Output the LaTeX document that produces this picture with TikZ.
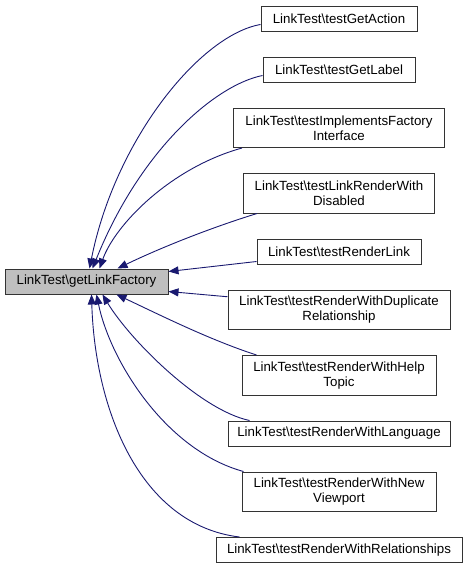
\documentclass[tikz,border=0pt]{standalone}
\usepackage{fontspec}
\setmainfont{Liberation Sans}
\usepackage{tikz}
\usetikzlibrary{arrows.meta, positioning}
\definecolor{edgeblue}{RGB}{25,25,112}
\definecolor{focusgray}{RGB}{191,191,191}

\begin{document}
\begin{tikzpicture}[x=1pt, y=-1pt, node distance=25pt]
\tikzstyle{func} = [rectangle, draw=black!80, line width=1pt, fill=white, align=center,
                    minimum height=25pt, inner sep=0pt,
                    font=\fontsize{13.3}{15}\selectfont]
\tikzstyle{func2} = [func, minimum height=39.5pt]
\tikzstyle{focus} = [func, fill=focusgray]
\tikzstyle{arrow} = [edgeblue, line width=0.9pt, {Triangle[length=10pt,width=8pt]}-]
\useasboundingbox (0,0) rectangle (468,571);
\node (getAction) [func, minimum width=156pt] at (339,18.5) {LinkTest\textbackslash testGetAction};
\node (getLabel) [func, minimum width=152pt, below=of getAction] {LinkTest\textbackslash testGetLabel};
\node (implements) [func2, minimum width=211pt, below=of getLabel] {LinkTest\textbackslash testImplementsFactory\\Interface};
\node (disabled) [func2, minimum width=191pt, below=of implements] {LinkTest\textbackslash testLinkRenderWith\\Disabled};
\node (renderLink) [func, minimum width=164pt, below=of disabled] {LinkTest\textbackslash testRenderLink};
\node (duplicate) [func2, minimum width=222pt, below=of renderLink] {LinkTest\textbackslash testRenderWithDuplicate\\Relationship};
\node (helpTopic) [func2, minimum width=194pt, below=of duplicate] {LinkTest\textbackslash testRenderWithHelp\\Topic};
\node (language) [func, minimum width=222pt, below=of helpTopic] {LinkTest\textbackslash testRenderWithLanguage};
\node (viewport) [func2, minimum width=194pt, below=of language] {LinkTest\textbackslash testRenderWithNew\\Viewport};
\node (relations) [func, minimum width=246pt, below=of viewport] {LinkTest\textbackslash testRenderWithRelationships};
\node (factory) [focus, minimum width=163pt] at (86.5,281.5) {LinkTest\textbackslash getLinkFactory};
% callers, top half
\draw [arrow] ([xshift=85pt]factory.north west) .. controls (115,140) and (200,35) .. ([yshift=-6pt]getAction.west);
\draw [arrow] ([xshift=88pt]factory.north west) .. controls (140,150) and (215,85) .. ([yshift=-6pt]getLabel.west);
\draw [arrow] ([xshift=95pt]factory.north west) .. controls (115,225) and (170,168) .. ([xshift=9pt]implements.south west);
\draw [arrow] ([xshift=113pt]factory.north west) .. controls (160,248) and (210,228) .. ([xshift=14pt]disabled.south west);
\draw [arrow] ([yshift=10pt]factory.east) -- ([yshift=-10pt]renderLink.west);
% callers, bottom half
\draw [arrow] ([yshift=-10pt]factory.east) -- ([yshift=13pt]duplicate.west);
\draw [arrow] ([xshift=112pt]factory.south west) .. controls (160,315) and (210,340) .. ([xshift=15pt]helpTopic.north west);
\draw [arrow] ([xshift=98pt]factory.south west) .. controls (130,340) and (200,410) .. ([xshift=22pt]language.north west);
\draw [arrow] ([xshift=92pt]factory.south west) .. controls (110,360) and (165,450) .. ([xshift=2pt]viewport.north west);
\draw [arrow] ([xshift=87pt]factory.south west) .. controls (95,410) and (140,525) .. ([xshift=24pt]relations.north west);
\end{tikzpicture}
\end{document}
